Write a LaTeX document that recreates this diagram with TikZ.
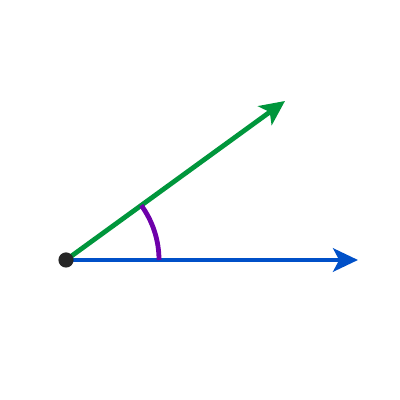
\documentclass[tikz,border=0pt]{standalone}
\usetikzlibrary{arrows.meta}
\definecolor{raygreen}{RGB}{0,150,60}
\definecolor{rayblue}{RGB}{0,80,200}
\definecolor{arcpurple}{RGB}{110,0,170}
\begin{document}
\begin{tikzpicture}[line width=0.12cm,
  ray/.style={-{Stealth[length=0.62cm,width=0.58cm,inset=0.15cm]}}]
\useasboundingbox (0,0) rectangle (10,10);
\coordinate (O) at (1.65,3.5);
\coordinate (A) at (8.95,3.5);
\coordinate (B) at (7.125,7.475);
\draw[ray,color=rayblue] (O)--(A);
\draw[ray,color=raygreen] (O)--(B);
\draw[color=arcpurple] (O) ++(2.325,0) arc[start angle=0,end angle=36,radius=2.325];
\fill[color=black!85] (O) circle (0.19);
\end{tikzpicture}
\end{document}
